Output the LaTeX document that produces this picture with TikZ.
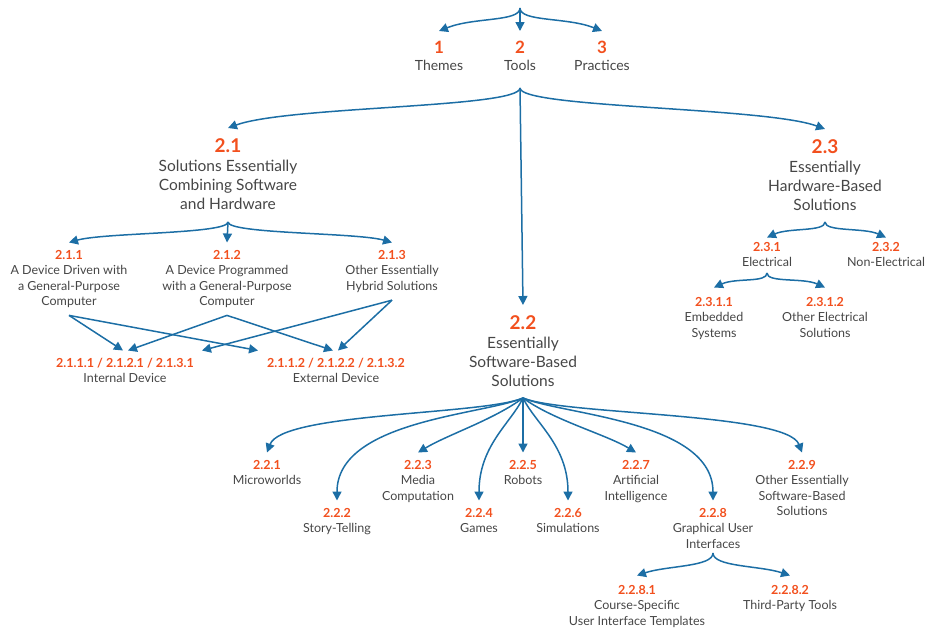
\documentclass[tikz,border=0pt]{standalone}
\usepackage{fontspec}
\setmainfont{Lato}
\usetikzlibrary{arrows.meta}
\definecolor{numred}{RGB}{242,80,30}
\definecolor{txtgray}{RGB}{70,70,70}
\definecolor{arrblue}{RGB}{28,110,165}
\newcommand{\nb}[1]{{\color{numred}\bfseries #1}}

\begin{document}
\begin{tikzpicture}[x=1pt,y=-1pt,
  lvltop/.style={align=center, anchor=north, inner sep=0pt, outer ysep=10pt, text=txtgray, font=\fontsize{14}{17}\selectfont},
  lvlbig/.style={align=center, anchor=north, inner sep=0pt, outer ysep=11pt, text=txtgray, font=\fontsize{15.5}{19}\selectfont},
  lvlsmall/.style={align=center, anchor=north, inner sep=0pt, outer ysep=8pt, text=txtgray, font=\fontsize{12.5}{15.2}\selectfont},
  arr/.style={draw=arrblue, line width=1.5pt, -{Triangle[length=9pt,width=9pt]}}]
\useasboundingbox (0,0) rectangle (927,630);

%Top level
\node[lvltop] (n1) at (439,31) {{\fontsize{17}{17}\selectfont\nb{1}}\\Themes};
\node[lvltop] (n2) at (520,31) {{\fontsize{17}{17}\selectfont\nb{2}}\\Tools};
\node[lvltop] (n3) at (602,31) {{\fontsize{17}{17}\selectfont\nb{3}}\\Practices};

%Second level
\node[lvlbig] (n21) at (228,128) {{\fontsize{19}{19}\selectfont\nb{2.1}}\\Solutions Essentially\\Combining Software\\and Hardware};
\node[lvlbig] (n22) at (523,305) {{\fontsize{19}{19}\selectfont\nb{2.2}}\\Essentially\\Software-Based\\Solutions};
\node[lvlbig] (n23) at (825,129) {{\fontsize{19}{19}\selectfont\nb{2.3}}\\Essentially\\Hardware-Based\\Solutions};

%Below 2.1
\node[lvlsmall] (n211) at (69,242.5) {\nb{2.1.1}\\A Device Driven with\\a General-Purpose\\Computer};
\node[lvlsmall] (n212) at (227,242.5) {\nb{2.1.2}\\A Device Programmed\\with a General-Purpose\\Computer};
\node[lvlsmall] (n213) at (392,242.5) {\nb{2.1.3}\\Other Essentially\\Hybrid Solutions};
\node[lvlsmall] (n2111) at (125,350.5) {\nb{2.1.1.1 / 2.1.2.1 / 2.1.3.1}\\Internal Device};
\node[lvlsmall] (n2112) at (336,350.5) {\nb{2.1.1.2 / 2.1.2.2 / 2.1.3.2}\\External Device};

%Below 2.3
\node[lvlsmall, outer ysep=5pt] (n231) at (767,237.5) {\nb{2.3.1}\\Electrical};
\node[lvlsmall, outer ysep=5pt] (n232) at (886,237.5) {\nb{2.3.2}\\Non-Electrical};
\node[lvlsmall, outer ysep=10pt] (n2311) at (714,287.5) {\nb{2.3.1.1}\\Embedded\\Systems};
\node[lvlsmall, outer ysep=10pt] (n2312) at (825,287.5) {\nb{2.3.1.2}\\Other Electrical\\Solutions};

%Below 2.2
\node[lvlsmall] (n221) at (267,452.5) {\nb{2.2.1}\\Microworlds};
\node[lvlsmall] (n222) at (337,500.5) {\nb{2.2.2}\\Story-Telling};
\node[lvlsmall] (n223) at (418,452.5) {\nb{2.2.3}\\Media\\Computation};
\node[lvlsmall] (n224) at (479,500.5) {\nb{2.2.4}\\Games};
\node[lvlsmall] (n225) at (523,452.5) {\nb{2.2.5}\\Robots};
\node[lvlsmall] (n226) at (568,500.5) {\nb{2.2.6}\\Simulations};
\node[lvlsmall] (n227) at (636,452.5) {\nb{2.2.7}\\Artificial\\Intelligence};
\node[lvlsmall] (n228) at (713,500.5) {\nb{2.2.8}\\Graphical User\\Interfaces};
\node[lvlsmall] (n229) at (802,452.5) {\nb{2.2.9}\\Other Essentially\\Software-Based\\Solutions};
\node[lvlsmall, outer ysep=10pt] (n2281) at (637,575.5) {\nb{2.2.8.1}\\Course-Specific\\User Interface Templates};
\node[lvlsmall, outer ysep=10pt] (n2282) at (790,575.5) {\nb{2.2.8.2}\\Third-Party Tools};

%Brace roots
\coordinate (rtop) at (520,8);
\coordinate (r2) at (520,88);
\coordinate (r21) at (228,222);
\coordinate (r23) at (825,222);
\coordinate (r231) at (767,273);
\coordinate (r22) at (523,398);
\coordinate (r228) at (713,553);

%Arrows
\draw[arr] (rtop) .. controls +(0,14) and +(35,-14) .. (n1.north);
\draw[arr] (rtop) -- (n2.north);
\draw[arr] (rtop) .. controls +(0,14) and +(-35,-14) .. (n3.north);

\draw[arr] (r2) .. controls +(0,20) and +(60,-22) .. (n21.north);
\draw[arr] (r2) -- (n22.north);
\draw[arr] (r2) .. controls +(0,20) and +(-60,-22) .. (n23.north);

\draw[arr] (r21) .. controls +(0,12) and +(35,-10) .. (n211.north);
\draw[arr] (r21) -- (n212.north);
\draw[arr] (r21) .. controls +(0,12) and +(-35,-10) .. (n213.north);

\draw[arr] (n211.south) -- ([xshift=-2pt]n2111.north);
\draw[arr] (n211.south) -- ([xshift=-9pt]n2112.north west);
\draw[arr] (n212.south) -- ([xshift=3pt]n2111.north);
\draw[arr] (n212.south) -- ([xshift=-3pt]n2112.north);
\draw[arr] (n213.south) -- ([xshift=8pt]n2111.north east);
\draw[arr] (n213.south) -- ([xshift=2pt]n2112.north);

\draw[arr] (r23) .. controls +(0,10) and +(22,-10) .. (n231.north);
\draw[arr] (r23) .. controls +(0,10) and +(-22,-10) .. (n232.north);
\draw[arr] (r231) .. controls +(0,10) and +(22,-10) .. (n2311.north);
\draw[arr] (r231) .. controls +(0,10) and +(-22,-10) .. (n2312.north);

\draw[arr] (r22) .. controls +(-40,17) and +(15,-40) .. (n221.north);
\draw[arr] (r22) .. controls +(-40,17) and +(0,-80) .. (n222.north);
\draw[arr] (r22) .. controls +(-30,22) and +(30,-18) .. (n223.north);
\draw[arr] (r22) .. controls +(-12,25) and +(0,-55) .. (n224.north);
\draw[arr] (r22) -- (n225.north);
\draw[arr] (r22) .. controls +(12,25) and +(0,-55) .. (n226.north);
\draw[arr] (r22) .. controls +(30,22) and +(-30,-18) .. (n227.north);
\draw[arr] (r22) .. controls +(40,17) and +(0,-80) .. (n228.north);
\draw[arr] (r22) .. controls +(40,17) and +(-15,-40) .. (n229.north);

\draw[arr] (r228) .. controls +(0,14) and +(30,-10) .. (n2281.north);
\draw[arr] (r228) .. controls +(0,14) and +(-30,-10) .. (n2282.north);
\end{tikzpicture}
\end{document}
